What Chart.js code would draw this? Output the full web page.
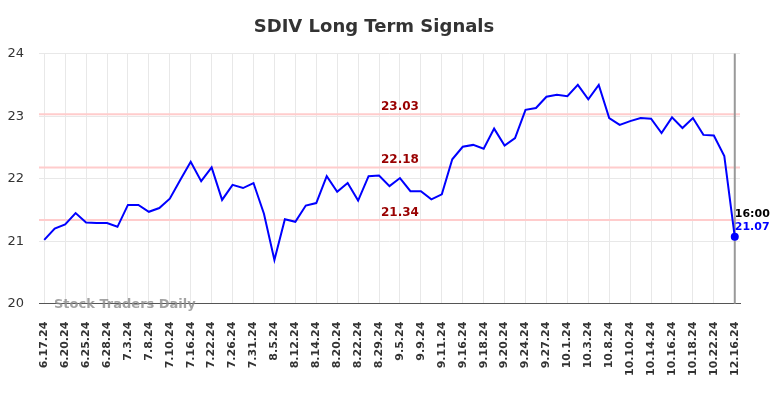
<!DOCTYPE html>
<html>
<head>
<meta charset="utf-8">
<script src="https://cdn.jsdelivr.net/npm/chart.js@4"></script>
<style>
html,body{margin:0;padding:0;background:#fff;}
#wrap{width:784px;height:398px;}
</style>
</head>
<body>
<div id="wrap"><canvas id="c" width="784" height="398"></canvas></div>
<script>
const dates = ["6.17.24","6.18.24","6.20.24","6.21.24","6.25.24","6.26.24","6.28.24","7.1.24","7.3.24","7.5.24","7.8.24","7.9.24","7.10.24","7.12.24","7.16.24","7.18.24","7.22.24","7.24.24","7.26.24","7.29.24","7.31.24","8.1.24","8.5.24","8.8.24","8.12.24","8.13.24","8.14.24","8.16.24","8.20.24","8.21.24","8.22.24","8.26.24","8.29.24","9.3.24","9.5.24","9.6.24","9.9.24","9.10.24","9.11.24","9.13.24","9.16.24","9.17.24","9.18.24","9.19.24","9.20.24","9.23.24","9.24.24","9.26.24","9.27.24","9.30.24","10.1.24","10.2.24","10.3.24","10.7.24","10.8.24","10.9.24","10.10.24","10.11.24","10.14.24","10.15.24","10.16.24","10.17.24","10.18.24","10.21.24","10.22.24","10.23.24","12.16.24"];
const prices = [21.02,21.20,21.27,21.45,21.30,21.29,21.29,21.23,21.58,21.58,21.47,21.53,21.68,21.98,22.27,21.96,22.18,21.66,21.90,21.85,21.93,21.44,20.70,21.35,21.31,21.57,21.61,22.04,21.79,21.93,21.65,22.04,22.05,21.88,22.01,21.80,21.80,21.67,21.75,22.31,22.51,22.54,22.48,22.80,22.53,22.65,23.10,23.13,23.31,23.34,23.32,23.50,23.27,23.50,22.97,22.86,22.92,22.97,22.96,22.73,22.98,22.81,22.97,22.70,22.69,22.36,21.07];
const signalLevels = [23.03, 22.18, 21.34];
const signalLabels = ["23.03", "22.18", "21.34"];
const yTicks = [20, 21, 22, 23, 24];
const titleText = "SDIV Long Term Signals";
const watermark = "Stock Traders Daily";
const lastTime = "16:00";
const lastLabel = "21.07";

const last = prices.length - 1;
const labelIndex = 34;

const overlay = {
  id: 'overlay',
  beforeDatasetsDraw(chart) {
    const {ctx, chartArea: a, scales: {x, y}} = chart;
    ctx.save();
    ctx.strokeStyle = '#ffcccc';
    ctx.lineWidth = 2;
    signalLevels.forEach(v => {
      const py = y.getPixelForValue(v);
      ctx.beginPath(); ctx.moveTo(a.left, py); ctx.lineTo(a.right, py); ctx.stroke();
    });
    ctx.fillStyle = '#990000';
    ctx.font = 'bold 12px "DejaVu Sans"';
    ctx.textAlign = 'center';
    ctx.textBaseline = 'alphabetic';
    signalLevels.forEach((v, i) => {
      const py = y.getPixelForValue(v);
      ctx.fillText(signalLabels[i], x.getPixelForValue(labelIndex), py - 4);
    });
    const lx = x.getPixelForValue(last);
    ctx.strokeStyle = '#999999';
    ctx.lineWidth = 2;
    ctx.beginPath(); ctx.moveTo(lx, a.top); ctx.lineTo(lx, a.bottom); ctx.stroke();
    ctx.restore();
  },
  afterDraw(chart) {
    const {ctx, chartArea: a, scales: {x, y}} = chart;
    ctx.save();
    const lx = x.getPixelForValue(last);
    const ly = y.getPixelForValue(prices[last]);
    ctx.textAlign = 'left';
    ctx.textBaseline = 'alphabetic';
    ctx.font = 'bold 11px "DejaVu Sans"';
    ctx.fillStyle = '#000000';
    ctx.fillText(lastTime, lx, ly - 20);
    ctx.fillStyle = '#0000ff';
    ctx.fillText(lastLabel, lx, ly - 7);
    ctx.font = 'bold 13px "DejaVu Sans"';
    ctx.fillStyle = 'rgba(140,140,140,0.8)';
    ctx.fillText(watermark, a.left + 15, a.bottom + 4);
    ctx.restore();
  }
};

new Chart(document.getElementById('c'), {
  type: 'line',
  data: {
    labels: dates,
    datasets: [{
      data: prices,
      borderColor: '#0000ff',
      backgroundColor: '#0000ff',
      borderWidth: 2,
      pointRadius: c => c.dataIndex === last ? 4 : 0,
      pointBackgroundColor: '#0000ff',
      pointBorderWidth: 0,
      tension: 0,
      fill: false
    }]
  },
  options: {
    responsive: false,
    animation: false,
    devicePixelRatio: 1,
    layout: {padding: {left: 8, right: 44, top: 0, bottom: 4}},
    plugins: {
      legend: {display: false},
      tooltip: {enabled: false},
      title: {
        display: true, text: titleText, color: '#333333',
        font: {family: 'DejaVu Sans', size: 18, weight: 'bold'},
        padding: {top: 17, bottom: 15}
      }
    },
    scales: {
      x: {
        offset: true,
        grid: {offset: false, drawTicks: false, color: c => (c.index % 2 === 0 ? '#e8e8e8' : 'rgba(0,0,0,0)')},
        border: {color: '#555555', width: 1},
        ticks: {
          autoSkip: false, minRotation: 90, maxRotation: 90, padding: 18,
          color: '#333333', font: {family: 'DejaVu Sans', size: 11, weight: 'bold'},
          callback: (v, i) => (i % 2 === 0 ? dates[i] : '')
        }
      },
      y: {
        min: 20, max: 24,
        afterBuildTicks: s => { s.ticks = yTicks.map(v => ({value: v})); },
        afterFit: s => { s.width = 31; },
        grid: {drawTicks: false, color: '#e8e8e8'},
        border: {display: false},
        ticks: {padding: 15, color: '#333333', font: {family: 'DejaVu Sans', size: 13}}
      }
    }
  },
  plugins: [overlay]
});
</script>
</body>
</html>
